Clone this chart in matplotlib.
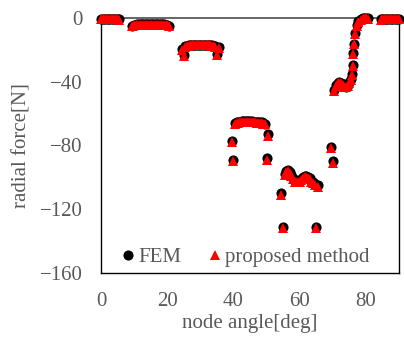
import matplotlib.pyplot as plt

plt.rcParams['font.family'] = ['Liberation Serif', 'DejaVu Serif']
TXT = '#595959'

# node angles [deg]
angle = [
    0.0, 0.5, 1.0, 1.5, 2.0, 2.5, 3.0, 3.5, 4.0, 4.5, 5.0, 5.5,
    9.5, 10.0, 10.5, 11.0, 11.5, 12.0, 12.5, 13.0, 13.5, 14.0, 14.5, 15.0,
    15.5, 16.0, 16.5, 17.0, 17.5, 18.0, 18.5, 19.0, 19.5, 20.0, 20.5,
    24.5, 25.0, 25.5, 26.0, 26.5, 27.0, 27.5, 28.0, 28.5, 29.0, 29.5, 30.0,
    30.5, 31.0, 31.5, 32.0, 32.5, 33.0, 33.5, 34.0, 34.5, 35.0, 35.5,
    39.5, 40.0, 40.5, 41.0, 41.5, 42.0, 42.5, 43.0, 43.5, 44.0, 44.5, 45.0,
    45.5, 46.0, 46.5, 47.0, 47.5, 48.0, 48.5, 49.0, 49.5, 50.0, 50.5,
    54.5, 55.0, 55.5, 56.0, 56.5, 57.0, 57.5, 58.0, 58.5, 59.0, 59.5, 60.0,
    60.5, 61.0, 61.5, 62.0, 62.5, 63.0, 63.5, 64.0, 64.5, 65.0, 65.5,
    69.5, 70.0, 70.5, 71.0, 71.5, 72.0, 72.5, 73.0, 73.5, 74.0, 74.5, 75.0,
    75.5, 75.75, 76.0, 76.25, 76.5, 76.75, 77.25, 77.75, 78.5, 79.0, 79.5,
    80.0, 80.5,
    84.5, 85.0, 85.5, 86.0, 86.5, 87.0, 87.5, 88.0, 88.5, 89.0, 89.5, 90.0,
]

# radial force [N] - FEM
fem = [
    -0.6, -0.5, -0.5, -0.5, -0.5, -0.5, -0.5, -0.5, -0.6, -0.6, -0.7, -0.8,
    -4.8, -4.3, -4.1, -4.0, -4.0, -3.9, -3.9, -3.9, -3.9, -3.9, -3.9, -3.9,
    -3.9, -3.9, -3.9, -3.9, -3.9, -3.9, -4.0, -4.0, -4.1, -4.3, -4.8,
    -19.5, -23.0, -17.8, -17.3, -17.0, -16.9, -16.8, -16.8, -16.8, -16.8, -16.8, -16.8,
    -16.8, -16.8, -16.8, -16.8, -16.8, -16.9, -17.0, -17.3, -17.8, -22.5, -18.5,
    -77.0, -89.0, -66.0, -65.5, -65.2, -65.0, -64.9, -64.9, -64.9, -64.9, -64.9, -64.9,
    -64.9, -65.0, -65.0, -65.1, -65.2, -65.3, -65.5, -65.8, -66.2, -88.0, -73.0,
    -110.0, -131.0, -98.0, -96.0, -95.5, -96.5, -98.5, -100.5, -102.0, -102.5, -102.5, -102.0,
    -101.0, -100.0, -99.0, -99.0, -99.5, -100.5, -102.0, -103.0, -104.0, -131.0, -105.0,
    -81.0, -90.0, -45.0, -42.0, -40.5, -40.0, -40.5, -41.5, -42.5, -43.0, -42.0, -40.0,
    -38.0, -35.0, -29.5, -22.0, -16.0, -9.5, -4.5, -2.0, -0.8, -0.3, 0.0,
    0.0, -0.2,
    -0.8, -0.7, -0.6, -0.5, -0.5, -0.5, -0.5, -0.5, -0.5, -0.5, -0.5, -0.6,
]

# radial force [N] - proposed method
proposed = [
    -0.8, -0.7, -0.7, -0.7, -0.7, -0.7, -0.7, -0.7, -0.8, -0.8, -0.9, -1.0,
    -5.2, -4.6, -4.3, -4.2, -4.2, -4.1, -4.1, -4.1, -4.1, -4.1, -4.1, -4.1,
    -4.1, -4.1, -4.1, -4.1, -4.1, -4.1, -4.2, -4.2, -4.3, -4.6, -5.2,
    -20.0, -23.8, -18.2, -17.6, -17.3, -17.2, -17.1, -17.1, -17.1, -17.1, -17.1, -17.1,
    -17.1, -17.1, -17.1, -17.1, -17.1, -17.2, -17.3, -17.6, -18.2, -23.2, -19.0,
    -77.8, -89.8, -66.6, -66.0, -65.7, -65.5, -65.4, -65.4, -65.4, -65.4, -65.4, -65.4,
    -65.4, -65.5, -65.5, -65.6, -65.7, -65.8, -66.0, -66.3, -66.8, -88.8, -73.8,
    -110.8, -131.8, -98.6, -96.7, -96.2, -97.2, -99.2, -101.2, -102.6, -103.0, -103.0, -102.6,
    -101.6, -100.6, -99.6, -99.6, -100.1, -101.2, -102.8, -103.8, -104.8, -131.8, -105.8,
    -81.8, -90.8, -45.6, -42.6, -41.0, -40.5, -41.0, -42.0, -43.0, -43.5, -42.6, -40.6,
    -38.6, -35.6, -30.0, -22.6, -16.5, -10.0, -4.9, -2.3, -1.0, -0.5, -0.2,
    -0.2, -0.4,
    -1.0, -0.9, -0.8, -0.7, -0.7, -0.7, -0.7, -0.7, -0.7, -0.7, -0.7, -0.8,
]

fig = plt.figure(figsize=(4.04, 3.37), dpi=100)
ax = fig.add_axes([101 / 404, 1 - 273 / 337, 298 / 404, 255 / 337])

ax.plot(angle, fem, 'o', color='black', ms=7.3, mew=0, clip_on=False,
        zorder=3, label='FEM')
ax.plot(angle, proposed, '^', color='#FF0000', ms=7.3, mew=0, clip_on=False,
        zorder=4, label='proposed method')

ax.set_xlim(0, 90)
ax.set_ylim(-160, 0)
ax.set_xticks([0, 20, 40, 60, 80])
ax.set_yticks([0, -40, -80, -120, -160])
ax.tick_params(length=0, labelsize=15, labelcolor=TXT)
ax.tick_params(axis='x', pad=14)
ax.tick_params(axis='y', pad=13)

for side in ['left', 'right', 'bottom']:
    ax.spines[side].set_color('black')
    ax.spines[side].set_linewidth(1.0)
ax.spines['top'].set_color('#595959')
ax.spines['top'].set_linewidth(1.3)

ax.set_xlabel('node angle[deg]', fontsize=15, color=TXT, labelpad=2)
ax.set_ylabel('radial force[N]', fontsize=15, color=TXT, labelpad=6)

leg = ax.legend(loc='center', bbox_to_anchor=(0.483, 0.06), ncol=2,
                frameon=False, fontsize=15, handletextpad=0.1,
                columnspacing=1.2, handlelength=0.8, markerscale=1.0)
for t in leg.get_texts():
    t.set_color(TXT)

fig.savefig('out.png', dpi=100)
